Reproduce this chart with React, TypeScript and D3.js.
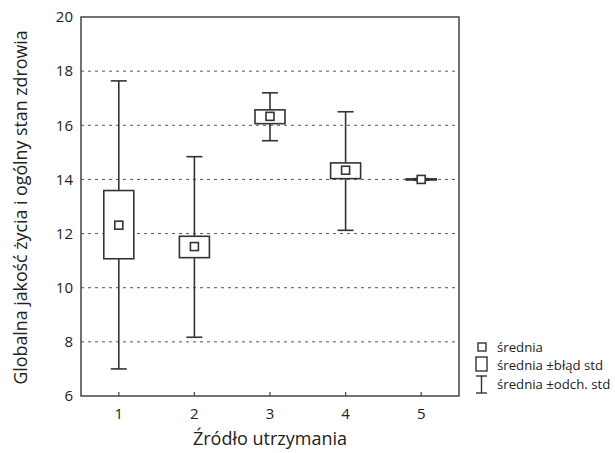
import React from 'react';
import * as d3 from 'd3';

const categories = ['1', '2', '3', '4', '5'];
const means = [12.31, 11.52, 16.33, 14.34, 14.0];
const seLow = [11.07, 11.11, 16.06, 14.03, 13.98];
const seHigh = [13.59, 11.9, 16.57, 14.61, 14.02];
const sdLow = [7.0, 8.17, 15.43, 12.12, 13.97];
const sdHigh = [17.64, 14.84, 17.2, 16.5, 14.03];
const yTicks = [6, 8, 10, 12, 14, 16, 18, 20];

const width = 615;
const height = 453;
const marginLeft = 81;
const marginRight = 156;
const marginTop = 17;
const marginBottom = 57;

const font = '"Open Sans", "Noto Sans", sans-serif';
const ink = '#333';

export default function App() {
  const x = d3.scaleLinear()
    .domain([0.5, categories.length + 0.5])
    .range([marginLeft, width - marginRight]);

  const y = d3.scaleLinear()
    .domain([6, 20])
    .range([height - marginBottom, marginTop]);

  const boxW = 30;
  const capW = 16;
  const meanS = 8;

  const rows = categories.map((c, i) => ({
    c,
    cx: x(i + 1),
    mean: means[i],
    seLo: seLow[i],
    seHi: seHigh[i],
    sdLo: sdLow[i],
    sdHi: sdHigh[i],
  }));

  const plotRight = width - marginRight;
  const plotBottom = height - marginBottom;

  return (
    <svg width={width} height={height} style={{ position: 'absolute', left: 0, top: 0, background: '#fff' }}>
      {/* dashed gridlines */}
      {yTicks.filter(t => t > 6 && t < 20).map(t => (
        <line key={'g' + t} x1={marginLeft} x2={plotRight} y1={y(t)} y2={y(t)}
          stroke="#555" strokeWidth={1} strokeDasharray="3,4" />
      ))}

      {/* whiskers, boxes, means */}
      {rows.map(d => (
        <g key={d.c} stroke={ink} strokeWidth={1.6} fill="none">
          <line x1={d.cx} x2={d.cx} y1={y(d.sdHi)} y2={y(d.seHi)} />
          <line x1={d.cx} x2={d.cx} y1={y(d.seLo)} y2={y(d.sdLo)} />
          <line x1={d.cx - capW / 2} x2={d.cx + capW / 2} y1={y(d.sdHi)} y2={y(d.sdHi)} />
          <line x1={d.cx - capW / 2} x2={d.cx + capW / 2} y1={y(d.sdLo)} y2={y(d.sdLo)} />
          <rect x={d.cx - boxW / 2} y={y(d.seHi)} width={boxW} height={y(d.seLo) - y(d.seHi)} fill="#fff" />
          <rect x={d.cx - meanS / 2} y={y(d.mean) - meanS / 2} width={meanS} height={meanS} fill="#fff" />
        </g>
      ))}

      {/* frame */}
      <rect x={marginLeft} y={marginTop} width={plotRight - marginLeft} height={plotBottom - marginTop}
        fill="none" stroke="#444" strokeWidth={1.5} />

      {/* y tick labels */}
      {yTicks.map(t => (
        <text key={'y' + t} x={marginLeft - 8} y={y(t)} dy="0.35em" textAnchor="end"
          fontFamily={font} fontSize={15} fill="#222">{t}</text>
      ))}

      {/* x ticks and labels */}
      {rows.map(d => (
        <g key={'x' + d.c}>
          <line x1={d.cx} x2={d.cx} y1={plotBottom} y2={plotBottom - 4} stroke="#444" strokeWidth={1.2} />
          <text x={d.cx} y={plotBottom + 23} textAnchor="middle" fontFamily={font} fontSize={15} fill="#222">{d.c}</text>
        </g>
      ))}

      {/* axis titles */}
      <text x={(marginLeft + plotRight) / 2} y={445} textAnchor="middle" fontFamily={font} fontSize={18} fill="#222">
        Źródło utrzymania
      </text>
      <text transform={`translate(27,${(marginTop + plotBottom) / 2 + 1}) rotate(-90)`} textAnchor="middle"
        fontFamily={font} fontSize={17.8} fill="#222">
        Globalna jakość życia i ogólny stan zdrowia
      </text>

      {/* legend */}
      <g stroke={ink} strokeWidth={1.4} fill="#fff">
        <rect x={478} y={343} width={8} height={8} />
        <rect x={476} y={357} width={11} height={14} />
        <line x1={481.5} x2={481.5} y1={376} y2={393} />
        <line x1={476} x2={487} y1={376} y2={376} />
        <line x1={476} x2={487} y1={393} y2={393} />
      </g>
      <g fontFamily={font} fontSize={13.2} fill="#222">
        <text x={497} y={352}>średnia</text>
        <text x={497} y={370}>średnia ±błąd std</text>
        <text x={497} y={389}>średnia ±odch. std</text>
      </g>
    </svg>
  );
}
